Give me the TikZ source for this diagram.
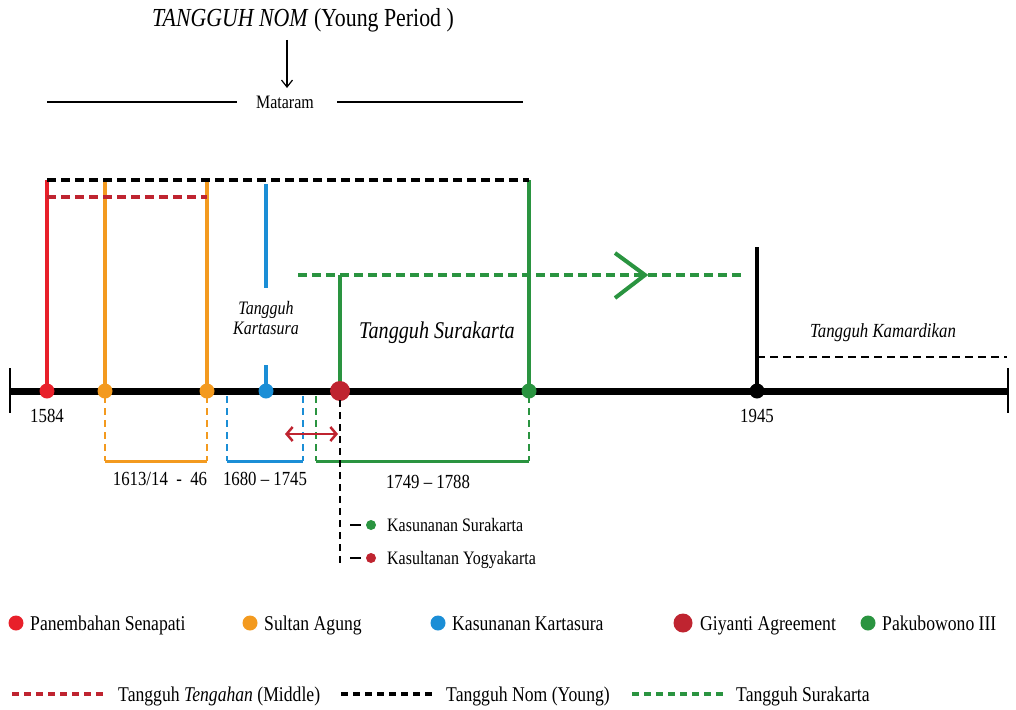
\documentclass[tikz,border=0pt]{standalone}
\usepackage{fontspec}
\setmainfont{Liberation Serif}[FakeStretch=0.84]
\usetikzlibrary{arrows.meta}
\definecolor{senred}{HTML}{E8202A}
\definecolor{agorange}{HTML}{F39A1F}
\definecolor{kartblue}{HTML}{1B8ED6}
\definecolor{giyred}{HTML}{BF2430}
\definecolor{pbgreen}{HTML}{2A9440}
\tikzset{
  txt/.style={inner sep=0pt, font=\fontsize{20}{24}\selectfont},
  leg/.style={inner sep=0pt, anchor=base west, font=\fontsize{21}{24}\selectfont},
  dot/.style={circle, fill=#1, inner sep=0pt, minimum size=15pt},
  reign/.style={line width=3.5pt, draw=#1},
  span/.style={line width=2.5pt, draw=#1, dash pattern=on 7pt off 5pt},
  period/.style={line width=4pt, draw=#1, dash pattern=on 9pt off 5pt},
  legdash/.style={line width=4.5pt, draw=#1, dash pattern=on 7pt off 5pt},
}
\begin{document}
\begin{tikzpicture}[x=1pt,y=-1pt]
\useasboundingbox (0,0) rectangle (1016,709);
% heading
\node[txt, font=\fontsize{26}{30}\selectfont] (title) at (303,20) {\textit{TANGGUH NOM} (Young Period )};
\node[txt, font=\fontsize{19}{22}\selectfont] (mataram) at (285,102) {Mataram};
\coordinate (arrtop) at (287,40);
\draw [line width=1.2pt, -{Straight Barb[length=7pt,width=11pt]}] (arrtop) -- (arrtop |- 0,88);
\draw [line width=1.2pt] (47,102) -- ([xshift=-19pt]mataram.west);
\draw [line width=1.2pt] ([xshift=23pt]mataram.east) -- (523,102);

% timeline
\coordinate (tl) at (10,391);
\coordinate (tr) at (1008,391);
\draw [line width=7pt] (tl) -- (tr);
\draw [line width=1.5pt] (10,368) -- (10,413);
\draw [line width=1.5pt] (1008,368) -- (1008,413);

% events on the timeline
\coordinate (senapati) at (47,391);
\coordinate (agung1) at (105,391);
\coordinate (agung2) at (207,391);
\coordinate (kart) at (266,391);
\coordinate (giyanti) at (340,391);
\coordinate (pb) at (529,391);
\coordinate (merdeka) at (757,391);

% periods above
\draw [reign=senred] (senapati) -- (47,180);
\draw [reign=agorange] (agung1) -- (105,180);
\draw [reign=agorange] (agung2) -- (207,180);
\draw [reign=kartblue] (266,184) -- (266,288);
\draw [reign=kartblue] (266,365) -- (kart);
\draw [reign=pbgreen] (pb) -- (529,180);
\draw [reign=pbgreen] (giyanti) -- (340,275);
\draw [line width=3.5pt] (merdeka) -- (757,247);
\draw [period=black] (47,180) -- (529,180);
\draw [period=giyred] (47,197) -- (207,197);
\draw [period=pbgreen] (298,275) -- (745,275);
\draw [line width=4pt, pbgreen, line join=miter] (615,253) -- (645,275) -- (615,298);
\draw [line width=2pt, dash pattern=on 8pt off 5pt] (757,357) -- (1007,357);

\node[txt, font=\fontsize{19}{22}\selectfont\itshape, align=center] (kartlbl) at (266,318) {Tangguh\\[-2pt]Kartasura};
\node[txt, font=\fontsize{24}{28}\selectfont\itshape] (surlbl) at (437,333) {Tangguh Surakarta};
\node[txt, font=\fontsize{20}{24}\selectfont\itshape] (kamlbl) at (883,333) {Tangguh Kamardikan};

% dots
\node[dot=senred] (d1) at (senapati) {};
\node[dot=agorange] (d2) at (agung1) {};
\node[dot=agorange] (d3) at (agung2) {};
\node[dot=kartblue] (d4) at (kart) {};
\node[dot=giyred, minimum size=20pt] (d5) at (giyanti) {};
\node[dot=pbgreen] (d6) at (pb) {};
\node[dot=black] (d7) at (merdeka) {};
\node[txt] (y1584) at (47,416) {1584};
\node[txt] (y1945) at (757,416) {1945};

% brackets below
\draw [span=agorange] (105,396) -- (105,461);
\draw [span=agorange] (207,396) -- (207,461);
\draw [line width=3pt, agorange] (105,461) -- (207,461);
\draw [span=kartblue] (227,396) -- (227,461);
\draw [span=kartblue] (303,396) -- (303,461);
\draw [line width=3pt, kartblue] (227,461) -- (303,461);
\draw [span=pbgreen] (316,396) -- (316,461);
\draw [span=pbgreen] (529,396) -- (529,461);
\draw [line width=3pt, pbgreen] (316,461) -- (529,461);
\node[txt] (r1) at (160,479) {1613/14 \ - \ 46};
\node[txt] (r2) at (265,479) {1680 -- 1745};
\node[txt] (r3) at (428,482) {1749 -- 1788};
\draw [line width=2.5pt, giyred, {Straight Barb[length=6pt,width=14pt]}-{Straight Barb[length=6pt,width=14pt]}] (285,434) -- (338,434);

% split after Giyanti
\draw [line width=2.5pt, dash pattern=on 7pt off 5pt] (340,400) -- (340,566);
\draw [line width=2.5pt] (350,525) -- (361,525);
\draw [line width=2.5pt] (350,558) -- (361,558);
\node[dot=pbgreen, minimum size=10pt] (ks) at (371,525) {};
\node[dot=giyred, minimum size=10pt] (ky) at (371,558) {};
\node[leg, font=\fontsize{19}{22}\selectfont] (kslbl) at (387,531.5) {Kasunanan Surakarta};
\node[leg, font=\fontsize{19}{22}\selectfont] (kylbl) at (387,564.5) {Kasultanan Yogyakarta};

% legend
\node[dot=senred] (l1) at (16,623) {};
\node[leg] at (30,630) {Panembahan Senapati};
\node[dot=agorange] (l2) at (250,623) {};
\node[leg] at (264,630) {Sultan Agung};
\node[dot=kartblue] (l3) at (438,623) {};
\node[leg] at (452,630) {Kasunanan Kartasura};
\node[dot=giyred, minimum size=19pt] (l4) at (683,623) {};
\node[leg] at (700,630) {Giyanti Agreement};
\node[dot=pbgreen] (l5) at (868,623) {};
\node[leg] at (882,630) {Pakubowono III};

\draw [legdash=giyred] (12,694) -- (106,694);
\node[leg] (lg1) at (118,701) {Tangguh \textit{Tengahan} (Middle)};
\draw [legdash=black] (341,694) -- (435,694);
\node[leg] (lg2) at (446,701) {Tangguh Nom (Young)};
\draw [legdash=pbgreen] (632,694) -- (726,694);
\node[leg] (lg3) at (736,701) {Tangguh Surakarta};
\end{tikzpicture}
\end{document}
